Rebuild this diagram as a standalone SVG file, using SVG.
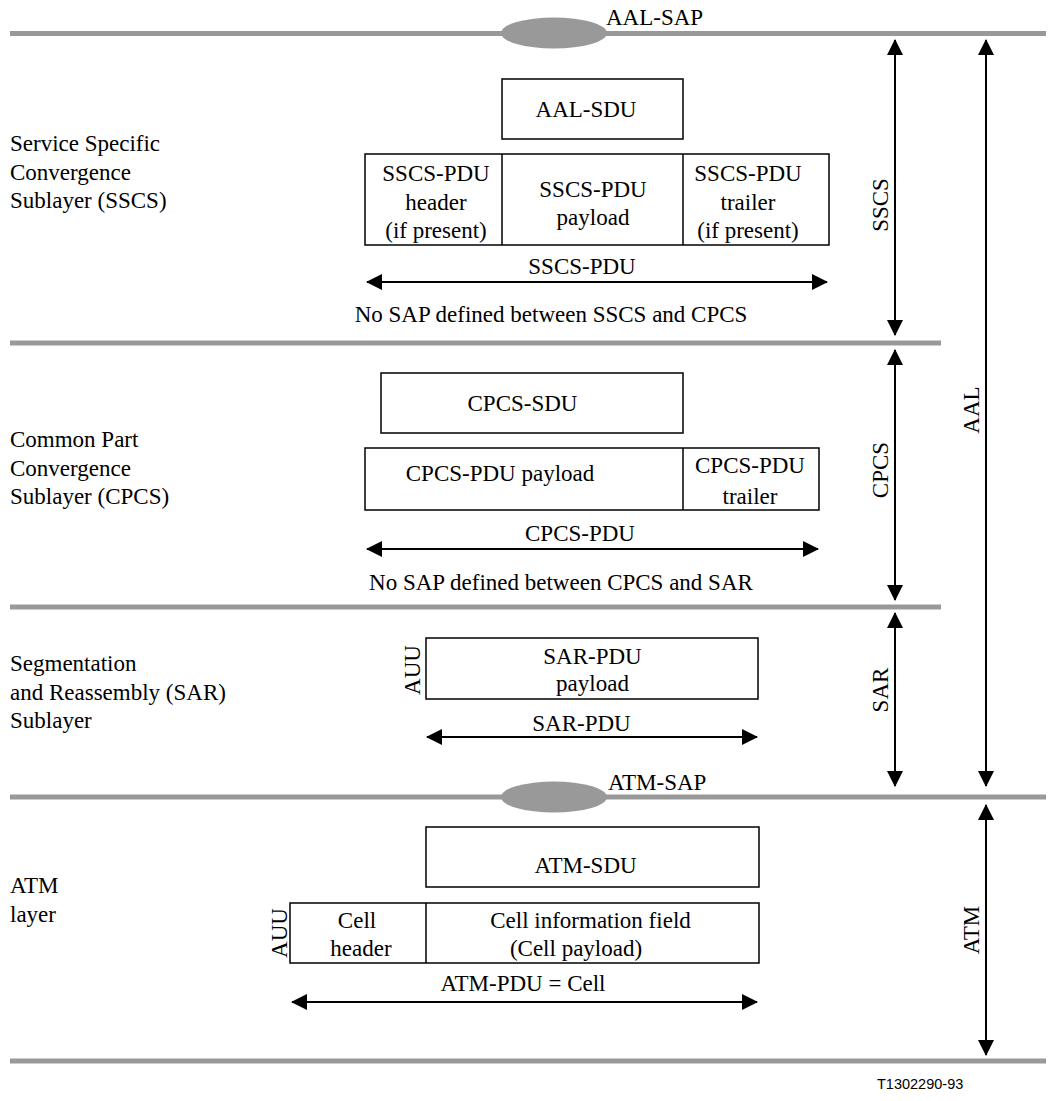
<svg xmlns="http://www.w3.org/2000/svg" width="1051" height="1101" viewBox="0 0 1051 1101">
<style>
.t{font-family:"Liberation Serif","Times New Roman",serif;font-size:23px;fill:#000}
.m{text-anchor:middle}
.box{fill:#fff;stroke:#000;stroke-width:1.5}
.div{stroke:#000;stroke-width:1.5}
.sep{stroke:#999;stroke-width:5}
.sap{fill:#999}
.arr{stroke:#000;stroke-width:2;fill:none;marker-start:url(#ah);marker-end:url(#ah)}
</style>
<defs>
<marker id="ah" viewBox="0 0 16 16" refX="15" refY="8" markerWidth="16" markerHeight="16" markerUnits="userSpaceOnUse" orient="auto-start-reverse">
<path d="M0,0 L16,8 L0,16 Z" fill="#000"/>
</marker>
</defs>
<g id="layers">
<line class="sep" x1="10" y1="33.5" x2="1046" y2="33.5"/>
<line class="sep" x1="10" y1="343" x2="941" y2="343"/>
<line class="sep" x1="10" y1="607" x2="941" y2="607"/>
<line class="sep" x1="10" y1="797" x2="1046" y2="797"/>
<line class="sep" x1="10" y1="1061" x2="1046" y2="1061"/>
</g>
<g id="aal-sap">
<ellipse class="sap" cx="554" cy="33" rx="53" ry="15.5"/>
<text class="t" x="606" y="25">AAL-SAP</text>
</g>
<g id="atm-sap">
<ellipse class="sap" cx="554" cy="797" rx="53" ry="15.5"/>
<text class="t" x="608" y="790">ATM-SAP</text>
</g>
<g id="left-labels">
<text class="t" x="10" y="151">Service Specific</text>
<text class="t" x="10" y="179.5">Convergence</text>
<text class="t" x="10" y="208">Sublayer (SSCS)</text>
<text class="t" x="10" y="447">Common Part</text>
<text class="t" x="10" y="475.5">Convergence</text>
<text class="t" x="10" y="504">Sublayer (CPCS)</text>
<text class="t" x="10" y="671">Segmentation</text>
<text class="t" x="10" y="699.5">and Reassembly (SAR)</text>
<text class="t" x="10" y="728">Sublayer</text>
<text class="t" x="10" y="893">ATM</text>
<text class="t" x="10" y="921.5">layer</text>
</g>
<g id="aal-sdu">
<rect class="box" x="502" y="79" width="181" height="60"/>
<text class="t m" x="586" y="117">AAL-SDU</text>
</g>
<g id="sscs-pdu">
<rect class="box" x="365" y="154" width="464" height="91"/>
<line class="div" x1="502" y1="154" x2="502" y2="245"/>
<line class="div" x1="683" y1="154" x2="683" y2="245"/>
<text class="t m" x="436" y="181">SSCS-PDU</text>
<text class="t m" x="436" y="210">header</text>
<text class="t m" x="436" y="238">(if present)</text>
<text class="t m" x="593" y="197">SSCS-PDU</text>
<text class="t m" x="593" y="225">payload</text>
<text class="t m" x="748" y="181">SSCS-PDU</text>
<text class="t m" x="748" y="210">trailer</text>
<text class="t m" x="748" y="238">(if present)</text>
</g>
<g id="cpcs-sdu">
<rect class="box" x="381" y="373" width="302" height="60"/>
<text class="t m" x="522.5" y="411">CPCS-SDU</text>
</g>
<g id="cpcs-pdu">
<rect class="box" x="365" y="448" width="454" height="62"/>
<line class="div" x1="683" y1="448" x2="683" y2="510"/>
<text class="t m" x="500" y="481">CPCS-PDU payload</text>
<text class="t m" x="750" y="473">CPCS-PDU</text>
<text class="t m" x="750" y="504">trailer</text>
</g>
<g id="sar-pdu">
<rect class="box" x="426" y="638" width="332" height="61"/>
<text class="t m" x="592.5" y="664">SAR-PDU</text>
<text class="t m" x="592.5" y="691">payload</text>
<text class="t m" transform="translate(420,670) rotate(-90)">AUU</text>
</g>
<g id="atm-sdu">
<rect class="box" x="426" y="827" width="333" height="60"/>
<text class="t m" x="585.5" y="873">ATM-SDU</text>
</g>
<g id="cell">
<rect class="box" x="290" y="903" width="469" height="60"/>
<line class="div" x1="426" y1="903" x2="426" y2="963"/>
<text class="t m" x="357" y="928">Cell</text>
<text class="t m" x="361" y="956">header</text>
<text class="t m" x="590.5" y="928">Cell information field</text>
<text class="t m" x="576" y="956">(Cell payload)</text>
<text class="t m" transform="translate(287,933) rotate(-90)">AUU</text>
</g>
<g id="connectors">
<line class="arr" x1="367" y1="282" x2="827" y2="282"/>
<line class="arr" x1="367" y1="549" x2="818" y2="549"/>
<line class="arr" x1="427" y1="737" x2="757" y2="737"/>
<line class="arr" x1="292" y1="1002" x2="757" y2="1002"/>
<line class="arr" x1="895" y1="40" x2="895" y2="335"/>
<line class="arr" x1="895" y1="350" x2="895" y2="600"/>
<line class="arr" x1="895" y1="613" x2="895" y2="786"/>
<line class="arr" x1="986" y1="40" x2="986" y2="786"/>
<line class="arr" x1="986" y1="805" x2="986" y2="1055"/>
</g>
<g id="connector-labels">
<text class="t m" x="582" y="274">SSCS-PDU</text>
<text class="t m" x="551" y="322">No SAP defined between SSCS and CPCS</text>
<text class="t m" x="580" y="541">CPCS-PDU</text>
<text class="t m" x="561" y="590">No SAP defined between CPCS and SAR</text>
<text class="t m" x="581.5" y="731">SAR-PDU</text>
<text class="t m" x="523" y="991">ATM-PDU = Cell</text>
<text class="t m" transform="translate(888,205) rotate(-90)">SSCS</text>
<text class="t m" transform="translate(888,470) rotate(-90)">CPCS</text>
<text class="t m" transform="translate(888,690) rotate(-90)">SAR</text>
<text class="t m" transform="translate(979,410) rotate(-90)">AAL</text>
<text class="t m" transform="translate(979,930) rotate(-90)">ATM</text>
</g>
<text x="877" y="1089" style="font-family:'Liberation Sans',Arial,sans-serif;font-size:14.5px">T1302290-93</text>
</svg>
